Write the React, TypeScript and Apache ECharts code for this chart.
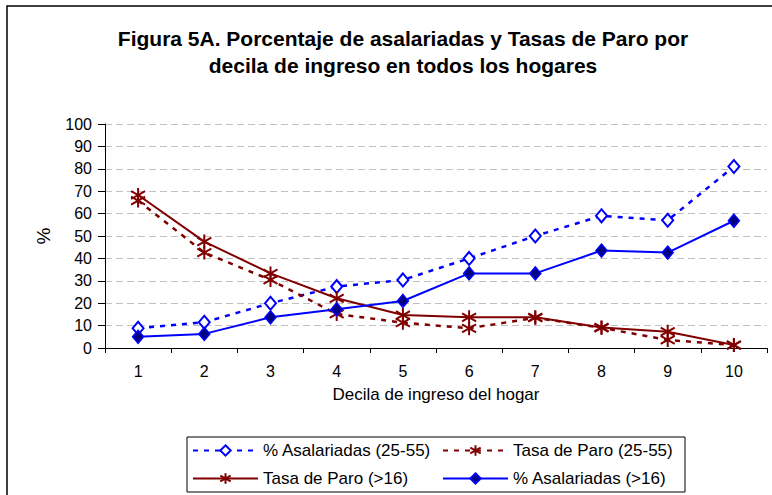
import React, { useEffect, useRef } from "react";
import * as echarts from "echarts";

const deciles = ["1", "2", "3", "4", "5", "6", "7", "8", "9", "10"];
const asal2555 = [8.8, 11.5, 20, 27.4, 30.4, 40, 50, 59, 57, 81];
const paro2555 = [65.8, 42.6, 30.4, 15.2, 11.3, 8.8, 13.5, 9.0, 3.6, 1.3];
const paro16 = [68.3, 47.5, 33.3, 22.2, 14.7, 13.7, 13.7, 9.2, 7.3, 1.3];
const asal16 = [5.0, 6.3, 13.7, 17.3, 21.0, 33.3, 33.3, 43.5, 42.6, 56.8];

const names = [
  "% Asalariadas (25-55)",
  "Tasa de Paro (25-55)",
  "Tasa de Paro (>16)",
  "% Asalariadas (>16)",
];

const FONT = 'Arial, "Liberation Sans", sans-serif';
const BLUE = "#0000ff";
const RED = "#800000";
const STAR = "path://M10 0L10 20M1.8 4.3L18.2 15.7M1.8 15.7L18.2 4.3";

export default function App() {
  const ref = useRef<HTMLDivElement>(null);
  useEffect(() => {
    document.body.style.margin = "0";
    const chart = echarts.init(ref.current!, undefined, { renderer: "svg" });
    const legendBase = {
      orient: "horizontal",
      padding: 0,
      itemWidth: 65,
      itemHeight: 13,
      textStyle: { fontSize: 17, color: "#000", fontFamily: FONT },
    };
    chart.setOption({
      animation: false,
      backgroundColor: "#fff",
      textStyle: { fontFamily: FONT },
      graphic: [
        {
          type: "rect",
          shape: { x: 7, y: 6, width: 800, height: 600 },
          style: { fill: "none", stroke: "#000", lineWidth: 1.5 },
          silent: true,
        },
        {
          type: "text",
          x: 403,
          y: 24.5,
          style: {
            text: "Figura 5A. Porcentaje de asalariadas y Tasas de Paro por\ndecila de ingreso en todos los hogares",
            fontSize: 21,
            fontWeight: "bold",
            fontFamily: FONT,
            lineHeight: 27,
            align: "center",
            verticalAlign: "top",
            fill: "#000",
          },
        },
        {
          type: "rect",
          shape: { x: 187, y: 437, width: 498, height: 55 },
          style: { fill: "none", stroke: "#000", lineWidth: 1 },
          silent: true,
        },
      ],
      legend: [
        { ...legendBase, data: [names[0]], left: 192, top: 442 },
        { ...legendBase, data: [names[1]], left: 442, top: 442 },
        { ...legendBase, data: [names[2]], left: 192, top: 470 },
        { ...legendBase, data: [names[3]], left: 442, top: 470 },
      ],
      grid: { left: 105, right: 5, top: 124, bottom: 147 },
      xAxis: {
        type: "category",
        data: deciles,
        boundaryGap: true,
        name: "Decila de ingreso del hogar",
        nameLocation: "middle",
        nameGap: 38,
        nameTextStyle: { fontSize: 17, color: "#000", fontFamily: FONT },
        axisLine: { show: true, lineStyle: { color: "#000", width: 1 } },
        axisTick: { show: true, length: 5, lineStyle: { color: "#000" } },
        axisLabel: { fontSize: 16, color: "#000", margin: 15, fontFamily: FONT },
        splitLine: { show: false },
      },
      yAxis: {
        type: "value",
        min: 0,
        max: 100,
        interval: 10,
        name: "%",
        nameLocation: "middle",
        nameRotate: 90,
        nameGap: 52,
        nameTextStyle: { fontSize: 19, color: "#000", fontFamily: FONT },
        axisLine: { show: true, lineStyle: { color: "#000", width: 1 } },
        axisTick: { show: true, length: 7, lineStyle: { color: "#000" } },
        axisLabel: { fontSize: 16, color: "#000", margin: 13, fontFamily: FONT },
        splitLine: {
          show: true,
          lineStyle: { color: "#c0c0c0", type: [7, 4], width: 1 },
        },
      },
      series: [
        {
          name: names[0],
          type: "line",
          data: asal2555,
          symbol: "diamond",
          symbolSize: [11, 13],
          lineStyle: { color: BLUE, width: 2.5, type: [5, 6] },
          itemStyle: { color: "#fff", borderColor: BLUE, borderWidth: 2 },
          z: 3,
        },
        {
          name: names[1],
          type: "line",
          data: paro2555,
          symbol: STAR,
          symbolSize: 14,
          lineStyle: { color: RED, width: 2.5, type: [5, 6] },
          itemStyle: { color: RED, borderColor: RED, borderWidth: 2 },
          z: 3,
        },
        {
          name: names[2],
          type: "line",
          data: paro16,
          symbol: STAR,
          symbolSize: 14,
          lineStyle: { color: RED, width: 2 },
          itemStyle: { color: RED, borderColor: RED, borderWidth: 2 },
          z: 4,
        },
        {
          name: names[3],
          type: "line",
          data: asal16,
          symbol: "diamond",
          symbolSize: [11, 13],
          lineStyle: { color: BLUE, width: 2 },
          itemStyle: { color: "#000080", borderColor: BLUE, borderWidth: 1.5 },
          z: 4,
        },
      ],
    });
    return () => chart.dispose();
  }, []);
  return <div ref={ref} style={{ width: 772, height: 495 }} />;
}
